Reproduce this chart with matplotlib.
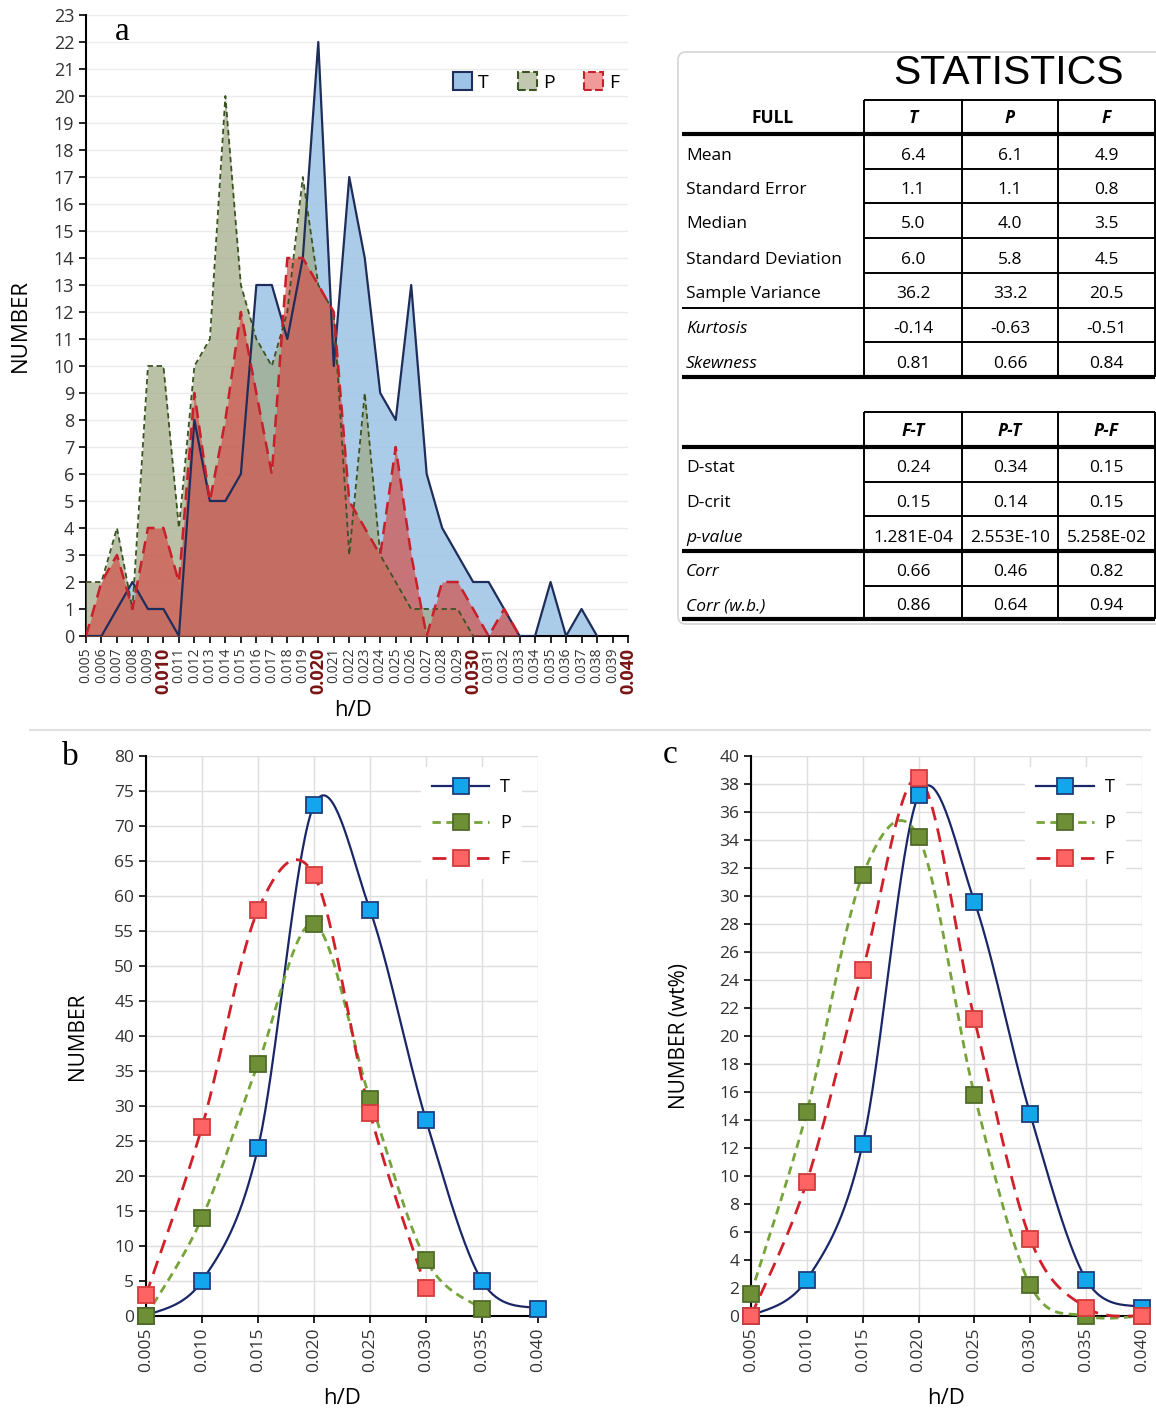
import numpy as np
import matplotlib
matplotlib.use('Agg')
import matplotlib.pyplot as plt
from matplotlib.patches import Patch, FancyBboxPatch
from matplotlib.lines import Line2D

plt.rcParams['font.family'] = ['Open Sans', 'DejaVu Sans']

nan = np.nan

# ---- panel a: counts per h/D class ----
hd_a = ['0.005', '0.006', '0.007', '0.008', '0.009', '0.010', '0.011', '0.012', '0.013',
        '0.014', '0.015', '0.016', '0.017', '0.018', '0.019', '0.020', '0.021', '0.022',
        '0.023', '0.024', '0.025', '0.026', '0.027', '0.028', '0.029', '0.030', '0.031',
        '0.032', '0.033', '0.034', '0.035', '0.036', '0.037', '0.038', '0.039', '0.040']
bold_a = ['0.010', '0.020', '0.030', '0.040']
T_a = [0, 0, 1, 2, 1, 1, 0, 8, 5, 5, 6, 13, 13, 11, 14, 22, 10, 17, 14, 9, 8, 13, 6, 4,
       3, 2, 2, 1, 0, 0, 2, 0, 1, 0, nan, nan]
P_a = [2, 2, 4, 1, 10, 10, 4, 10, 11, 20, 13, 11, 10, 12, 17, 13, 12, 3, 9, 3, 2, 1, 1, 1,
       1, 0, nan, nan, nan, nan, nan, nan, nan, nan, nan, nan]
F_a = [0, 2, 3, 1, 4, 4, 2, 9, 5, 8, 12, 9, 6, 14, 14, 13, 12, 5, 4, 3, 7, 3, 0, 2,
       2, 1, 0, 1, 0, nan, nan, nan, nan, nan, nan, nan]

# ---- panels b and c ----
hd_bc = [0.005, 0.010, 0.015, 0.020, 0.025, 0.030, 0.035, 0.040]
T_b = [0, 5, 24, 73, 58, 28, 5, 1]
P_b = [0, 14, 36, 56, 31, 8, 1, nan]
F_b = [3, 27, 58, 63, 29, 4, nan, nan]
T_c = [0, 2.6, 12.3, 37.2, 29.6, 14.4, 2.6, 0.6]
P_c = [1.6, 14.6, 31.5, 34.2, 15.8, 2.2, 0, 0]
F_c = [0, 9.6, 24.7, 38.4, 21.2, 5.5, 0.6, 0]

# ---- statistics table ----
stat_cols = ['T', 'P', 'F']
stat_rows = ['Mean', 'Standard Error', 'Median', 'Standard Deviation', 'Sample Variance',
             'Kurtosis', 'Skewness']
stat_vals = [['6.4', '6.1', '4.9'], ['1.1', '1.1', '0.8'], ['5.0', '4.0', '3.5'],
             ['6.0', '5.8', '4.5'], ['36.2', '33.2', '20.5'], ['-0.14', '-0.63', '-0.51'],
             ['0.81', '0.66', '0.84']]
test_cols = ['F-T', 'P-T', 'P-F']
test_rows = ['D-stat', 'D-crit', 'p-value', 'Corr', 'Corr (w.b.)']
test_vals = [['0.24', '0.34', '0.15'], ['0.15', '0.14', '0.15'],
             ['1.281E-04', '2.553E-10', '5.258E-02'], ['0.66', '0.46', '0.82'],
             ['0.86', '0.64', '0.94']]

W, H = 1156, 1416
fig = plt.figure(figsize=(W / 100, H / 100), dpi=100)


def px_axes(l, t, r, b):
    return fig.add_axes([l / W, 1 - b / H, (r - l) / W, (b - t) / H])


def smooth(xs, ys, n=40):
    # excel-like smoothed line (catmull-rom as cubic bezier)
    pts = np.array([(x, y) for x, y in zip(xs, ys) if not np.isnan(y)], float)
    out = []
    t = np.linspace(0, 1, n)[:, None]
    for i in range(len(pts) - 1):
        p0 = pts[i - 1] if i > 0 else pts[i]
        p1, p2 = pts[i], pts[i + 1]
        p3 = pts[i + 2] if i + 2 < len(pts) else pts[i + 1]
        c1 = p1 + (p2 - p0) / 6
        c2 = p2 - (p3 - p1) / 6
        seg = ((1 - t) ** 3 * p1 + 3 * (1 - t) ** 2 * t * c1
               + 3 * (1 - t) * t ** 2 * c2 + t ** 3 * p2)
        out.append(seg)
    out = np.vstack(out)
    return out[:, 0], out[:, 1]


def style_axes(ax):
    for s in ['top', 'right']:
        ax.spines[s].set_visible(False)
    for s in ['left', 'bottom']:
        ax.spines[s].set_color('black')
        ax.spines[s].set_linewidth(1.5)
    ax.tick_params(direction='out', length=5, width=1.2, colors='black',
                   labelcolor='#333333')


# ================= panel a =================
axa = px_axes(86, 15, 628, 636)
xa = np.arange(len(hd_a))
style_axes(axa)
axa.set_xlim(0, len(hd_a) - 1)
axa.set_ylim(0, 23)
axa.set_yticks(range(0, 24))
axa.tick_params(axis='y', labelsize=13)
axa.yaxis.grid(True, color='#ececec', lw=1)
axa.set_axisbelow(True)

T_arr, P_arr, F_arr = np.array(T_a, float), np.array(P_a, float), np.array(F_a, float)
axa.fill_between(xa, T_arr, color='#9dc3e6', alpha=0.85, lw=0, zorder=2)
axa.fill_between(xa, P_arr, color='#a0aa86', alpha=0.72, lw=0, zorder=3)
axa.fill_between(xa, F_arr, color='#d2524c', alpha=0.72, lw=0, zorder=4)
axa.plot(xa, T_arr, color='#1f2d5a', lw=1.6, zorder=5)
axa.plot(xa, P_arr, color='#3b5323', lw=1.3, ls=(0, (3, 2)), zorder=5)
axa.plot(xa, F_arr, color='#c8202a', lw=1.8, ls=(0, (5, 3)), zorder=5)

axa.set_xticks(xa)
axa.set_xticklabels(hd_a, rotation=90, fontsize=10)
for lab in axa.get_xticklabels():
    if lab.get_text() in bold_a:
        lab.set_fontsize(13)
        lab.set_fontweight('bold')
        lab.set_color('#7a1414')

axa.set_ylabel('NUMBER', fontsize=16)
axa.yaxis.set_label_coords(-0.101, 0.5)
axa.set_xlabel('h/D', fontsize=16)
axa.xaxis.set_label_coords(0.493, -0.103)

leg_handles = [Patch(facecolor='#9dc3e6', edgecolor='#1f2d5a', lw=1.5),
               Patch(facecolor='#c2c8b0', edgecolor='#3b5323', lw=1.5, ls='--'),
               Patch(facecolor='#f09a9a', edgecolor='#c8202a', lw=1.5, ls='--')]
axa.legend(leg_handles, ['T', 'P', 'F'], loc='center', bbox_to_anchor=(0.83, 0.892),
           ncol=3, frameon=False, fontsize=14, handlelength=1.0, handleheight=1.0,
           handletextpad=0.3, columnspacing=1.5)

# ================= panels b and c =================
series_style = {
    'T': dict(color='#1a2766', ls='-', lw=1.6, mfc='#14a6ec', mec='#1f3d7a'),
    'P': dict(color='#77a33b', ls=(0, (3, 2)), lw=2.0, mfc='#6e8f35', mec='#4f6b28'),
    'F': dict(color='#d0202a', ls=(0, (5, 3)), lw=2.0, mfc='#ff6464', mec='#d23c3c'),
}


def draw_panel(ax, data, ymax, ystep, ylabel, label_x):
    style_axes(ax)
    ax.set_xlim(0.005, 0.040)
    ax.set_ylim(0, ymax)
    ax.set_xticks(hd_bc)
    ax.set_xticklabels(['%.3f' % v for v in hd_bc], rotation=90, fontsize=12.5)
    ax.set_yticks(np.arange(0, ymax + 1, ystep))
    ax.tick_params(axis='y', labelsize=12.5)
    ax.grid(True, color='#dedede', lw=1)
    ax.set_axisbelow(True)
    for z, name in enumerate(['T', 'P', 'F']):
        st = series_style[name]
        sx, sy = smooth(hd_bc, data[name])
        ax.plot(sx, sy, color=st['color'], ls=st['ls'], lw=st['lw'], zorder=3,
                clip_on=False)
        ax.plot(hd_bc, data[name], ls='none', marker='s', ms=12, mfc=st['mfc'],
                mec=st['mec'], mew=1.3, zorder=4 + z, clip_on=False)
    handles = []
    for name in ['T', 'P', 'F']:
        st = series_style[name]
        handles.append(Line2D([], [], color=st['color'], ls=st['ls'], lw=st['lw'],
                              marker='s', ms=12, mfc=st['mfc'], mec=st['mec'], mew=1.3))
    leg = ax.legend(handles, ['T', 'P', 'F'], loc='center', bbox_to_anchor=(0.83, 0.88),
                    fontsize=13, handlelength=3.2, handletextpad=0.6, labelspacing=1.0,
                    frameon=True, framealpha=1, edgecolor='none', borderpad=0.6)
    leg.get_frame().set_facecolor('white')
    leg.set_zorder(10)
    ax.set_ylabel(ylabel, fontsize=15)
    ax.yaxis.set_label_coords(label_x, 0.5)
    ax.set_xlabel('h/D', fontsize=16)
    ax.xaxis.set_label_coords(0.5, -0.129)


axb = px_axes(146, 756, 538, 1316)
draw_panel(axb, {'T': T_b, 'P': P_b, 'F': F_b}, 80, 5, 'NUMBER', -0.148)
axc = px_axes(751, 756, 1142, 1316)
draw_panel(axc, {'T': T_c, 'P': P_c, 'F': F_c}, 40, 2, 'NUMBER (wt%)', -0.156)

# ================= overlay: labels, separator, table =================
ov = fig.add_axes([0, 0, 1, 1], zorder=10)
ov.set_xlim(0, W)
ov.set_ylim(H, 0)
ov.axis('off')
ov.patch.set_alpha(0)

serif = ['Liberation Serif', 'DejaVu Serif']
ov.text(122, 32, 'a', family=serif, fontsize=24, ha='center', va='center')
ov.text(70, 757, 'b', family=serif, fontsize=24, ha='center', va='center')
ov.text(670, 755, 'c', family=serif, fontsize=24, ha='center', va='center')
ov.plot([30, 1150], [730, 730], color='#e2e2e2', lw=1.5)

box = FancyBboxPatch((678, 52), 500, 572, boxstyle='round,pad=0,rounding_size=8',
                     fc='white', ec='#d4d4d4', lw=1.2)
ov.add_patch(box)
ov.text(1008, 73, 'STATISTICS', family=['Liberation Sans', 'DejaVu Sans'], fontsize=29.5,
        ha='center', va='center')

cols = [682, 864, 962, 1058, 1155]
lab_x = 686
thin, thick = 1.4, 3.0
fs = 12.5


def hline(y, x0, x1, lw):
    ov.plot([x0, x1], [y, y], color='black', lw=lw, solid_capstyle='butt')


def vline(x, y0, y1, lw=thin):
    ov.plot([x, x], [y0, y1], color='black', lw=lw, solid_capstyle='butt')


def draw_table(top, head_bottom, row_edges, head_first, headers, rows, vals,
               italic_rows, full_lines):
    hline(top, cols[1], cols[4], thin)
    for x in cols[1:]:
        vline(x, top, row_edges[-1])
    hline(head_bottom, cols[0], cols[4], thick)
    hy = (top + head_bottom) / 2 + 1
    if head_first:
        ov.text((cols[0] + cols[1]) / 2, hy, head_first, fontsize=fs, fontweight='bold',
                ha='center', va='center')
    for j, h in enumerate(headers):
        ov.text((cols[j + 1] + cols[j + 2]) / 2, hy, h, fontsize=fs, fontweight='bold',
                style='italic', ha='center', va='center')
    edges = [head_bottom] + row_edges
    for i, r in enumerate(rows):
        y0, y1 = edges[i], edges[i + 1]
        cy = (y0 + y1) / 2 + 4
        ov.text(lab_x, cy, r, fontsize=fs, ha='left', va='center',
                style='italic' if r in italic_rows else 'normal')
        for j, v in enumerate(vals[i]):
            ov.text((cols[j + 1] + cols[j + 2]) / 2, cy, v, fontsize=fs,
                    ha='center', va='center')
        if y1 in full_lines:
            hline(y1, cols[0], cols[4], full_lines[y1])
        else:
            hline(y1, cols[1], cols[4], thin)


draw_table(100, 134, [169, 203, 238, 273, 308, 342, 377], 'FULL', stat_cols, stat_rows,
           stat_vals, ['Kurtosis', 'Skewness'], {308: thin, 377: thick})
draw_table(412, 447, [482, 516, 551, 586, 619], None, test_cols, test_rows, test_vals,
           ['p-value', 'Corr', 'Corr (w.b.)'], {551: thick, 619: thick})

fig.savefig('out.png', dpi=100)
